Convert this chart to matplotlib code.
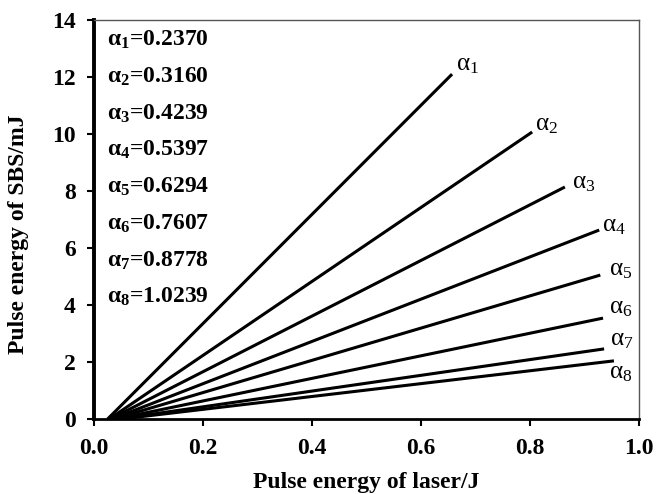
import matplotlib.pyplot as plt

plt.rcParams['font.family'] = ['Liberation Serif', 'DejaVu Serif']
plt.rcParams['mathtext.fontset'] = 'custom'
plt.rcParams['mathtext.rm'] = 'Liberation Serif'
plt.rcParams['mathtext.it'] = 'Liberation Serif'
plt.rcParams['mathtext.bf'] = 'Liberation Serif:bold'

alphas = ['0.2370', '0.3160', '0.4239', '0.5397', '0.6294', '0.7607', '0.8778', '1.0239']
x_start = [0.025, 0.028, 0.030, 0.033, 0.036, 0.040, 0.045, 0.050]
x_end = [0.657, 0.804, 0.864, 0.927, 0.929, 0.934, 0.936, 0.954]
y_end = [12.1, 10.07, 8.14, 6.63, 5.05, 3.54, 2.46, 2.04]
xticks = [0.0, 0.2, 0.4, 0.6, 0.8, 1.0]
yticks = [0, 2, 4, 6, 8, 10, 12, 14]

# pixel offsets of the end labels
lab_dx = [4, 3, 7, 3, 9, 6, 6, -5]
lab_dy = [9, 7, 4, 4, 5, 10, 9, -12]

fig = plt.figure(figsize=(6.64, 4.94), dpi=100)
ax = fig.add_axes([94 / 664, 75 / 494, 545 / 664, 399 / 494])

for i in range(len(alphas)):
    ax.plot([x_start[i], x_end[i]], [0, y_end[i]], color='black', lw=2.2,
            solid_capstyle='butt')
    ax.annotate(r'$\alpha_{%d}$' % (i + 1), (x_end[i], y_end[i]),
                xytext=(lab_dx[i], lab_dy[i]), textcoords='offset pixels',
                fontsize=18, va='center', ha='left')
    ax.text(0.024, 13.3 - 1.29 * i, r'$\mathbf{\alpha_{%d}}$=%s' % (i + 1, alphas[i]),
            fontsize=17, fontweight='bold', va='center', ha='left')

ax.set_xlim(0, 1.0)
ax.set_ylim(0, 14)
ax.set_xticks(xticks)
ax.set_yticks(yticks)
ax.set_xticklabels(['%.1f' % t for t in xticks], fontsize=17, fontweight='bold')
ax.set_yticklabels([str(t) for t in yticks], fontsize=17, fontweight='bold')
ax.tick_params(direction='out', length=5, width=1.5)
ax.tick_params(axis='x', pad=9)
ax.tick_params(axis='y', pad=8)
ax.spines['left'].set_linewidth(2.8)
ax.spines['bottom'].set_linewidth(2)
for s in ['top', 'right']:
    ax.spines[s].set_linewidth(1)
    ax.spines[s].set_color('#555555')

ax.set_xlabel('Pulse energy of laser/J', fontsize=17, fontweight='bold')
ax.set_ylabel('Pulse energy of SBS/mJ', fontsize=17, fontweight='bold')
ax.xaxis.set_label_coords(0.5, -0.16)
ax.xaxis.label.set_va('center')
ax.yaxis.set_label_coords(-0.138, 0.464)
ax.yaxis.label.set_va('center')

fig.savefig('out.png', dpi=100)
